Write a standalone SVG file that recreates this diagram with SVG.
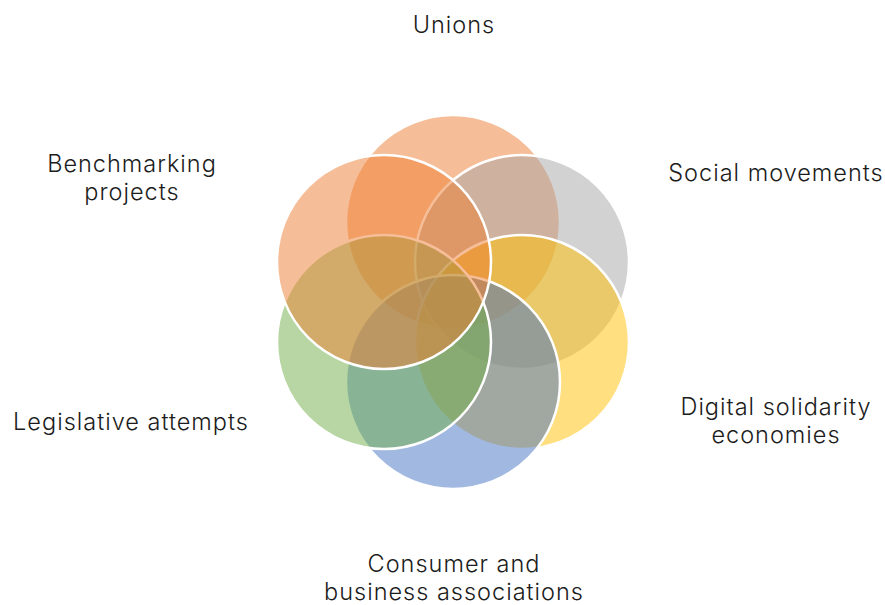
<svg xmlns="http://www.w3.org/2000/svg" width="885" height="605" viewBox="0 0 885 605">
  <style>
    .c { stroke: #ffffff; stroke-width: 2.5; fill-opacity: 0.5; }
    .t { font-family: "Inter", "Open Sans", "Liberation Sans", sans-serif; font-weight: 300; font-size: 23.5px; letter-spacing: 1px; fill: #1c1c1c; text-anchor: middle; }
  </style>
  <rect width="885" height="605" fill="#ffffff"/>
  <!-- six overlapping circles, drawn clockwise from the top -->
  <g id="unions">
    <circle class="c" cx="453" cy="222" r="107" fill="#ED7D31"/>
  </g>
  <g id="social-movements">
    <circle class="c" cx="522" cy="262" r="107" fill="#A5A5A5"/>
  </g>
  <g id="digital-solidarity">
    <circle class="c" cx="522" cy="342" r="107" fill="#FFC000"/>
  </g>
  <g id="consumer-business">
    <circle class="c" cx="453" cy="382" r="107" fill="#4472C4"/>
  </g>
  <g id="legislative">
    <circle class="c" cx="384" cy="342" r="107" fill="#70AD47"/>
  </g>
  <g id="benchmarking">
    <circle class="c" cx="384" cy="262" r="107" fill="#ED7D31"/>
  </g>
  <g id="connectors"></g>
  <!-- labels -->
  <g id="labels">
    <text class="t" x="454" y="33">Unions</text>
    <text class="t" x="776" y="181">Social movements</text>
    <text class="t" x="132" y="172">Benchmarking</text>
    <text class="t" x="132" y="200">projects</text>
    <text class="t" x="131" y="430">Legislative attempts</text>
    <text class="t" x="776" y="415">Digital solidarity</text>
    <text class="t" x="776" y="443">economies</text>
    <text class="t" x="454" y="572">Consumer and</text>
    <text class="t" x="454" y="600">business associations</text>
  </g>
</svg>
